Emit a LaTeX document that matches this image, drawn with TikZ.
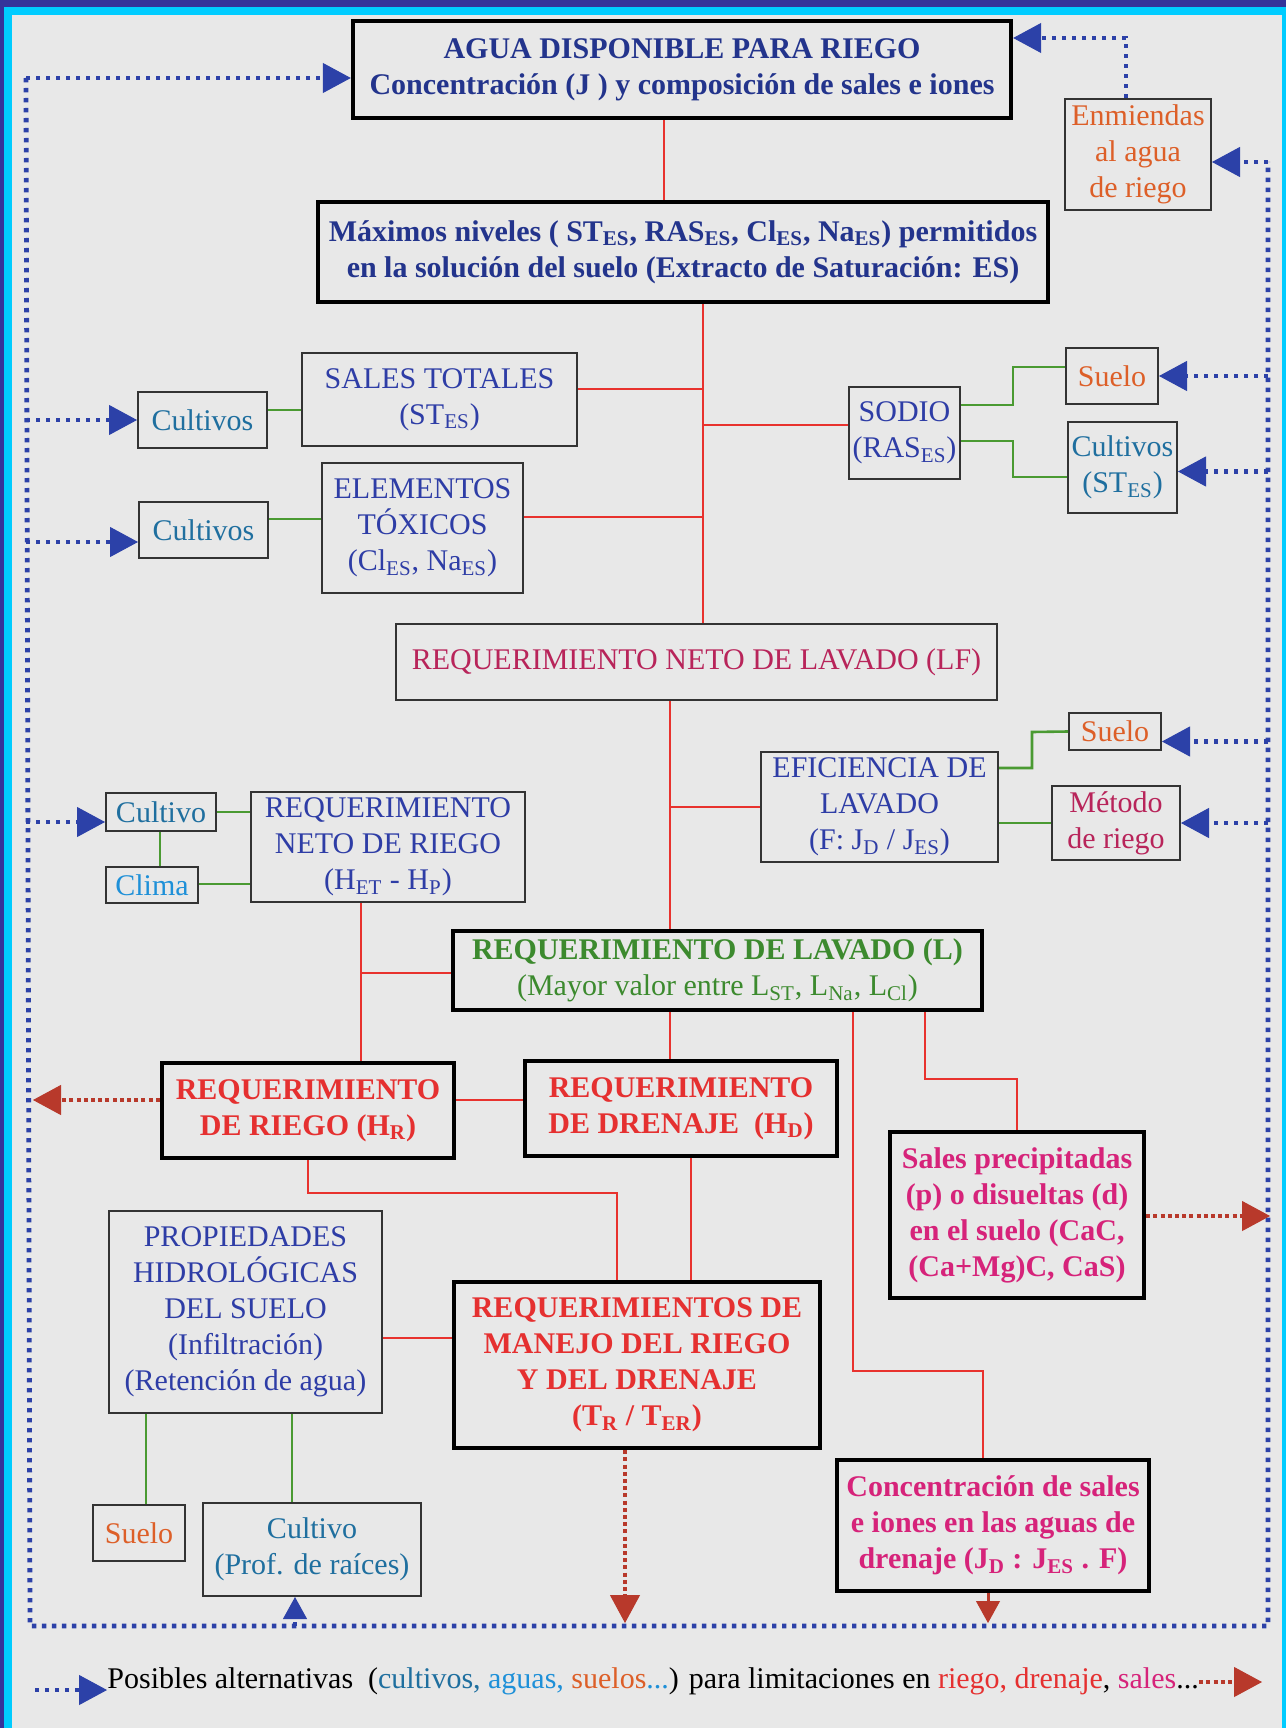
\documentclass[tikz,border=0pt]{standalone}
\usepackage{fontspec}
\setmainfont{Liberation Serif}
\usetikzlibrary{positioning,arrows.meta,calc}

\definecolor{bgc}{HTML}{E8E8E8}
\definecolor{navyframe}{HTML}{35339A}
\definecolor{cyanframe}{HTML}{00CCFF}
\definecolor{tnavy}{HTML}{23348C}
\definecolor{tblue}{HTML}{2E3DA6}
\definecolor{tteal}{HTML}{1F6F9F}
\definecolor{tlblue}{HTML}{1E90D8}
\definecolor{torange}{HTML}{DD5F28}
\definecolor{tcrimson}{HTML}{B8245A}
\definecolor{tgreen}{HTML}{3C8A2E}
\definecolor{tred}{HTML}{E53030}
\definecolor{tmag}{HTML}{D6237A}
\definecolor{lred}{HTML}{E8322E}
\definecolor{lgreen}{HTML}{4A9A32}
\definecolor{dblue}{HTML}{2C41A8}
\definecolor{dred}{HTML}{B8392B}

\newcommand{\lo}[1]{\textsubscript{#1}}

\begin{document}
\begin{tikzpicture}[
    x=0.5pt, y=-0.5pt,
    font=\fontsize{15}{18}\selectfont,
    thickbox/.style={rectangle, draw=black, line width=2.2pt, align=center, inner sep=0pt},
    thinbox/.style={rectangle, draw=black!80, line width=1pt, align=center, inner sep=0pt},
    boldtxt/.style={font=\fontsize{15}{18}\selectfont\bfseries},
    redline/.style={draw=lred, line width=1pt},
    greenline/.style={draw=lgreen, line width=1.3pt},
    dotblue/.style={draw=dblue, line width=2.4pt, dash pattern=on 2.2pt off 2.8pt},
    dotred/.style={draw=dred, line width=2.4pt, dash pattern=on 2pt off 1.6pt},
    bigtip/.style={-{Triangle[length=14pt, width=15pt, fill=#1, line width=0.5pt]}},
    smalltip/.style={-{Triangle[length=11pt, width=12pt, fill=#1, line width=0.5pt]}},
]
    \useasboundingbox (0,0) rectangle (1286,1728);
    % Frame
    \fill[navyframe] (0,0) rectangle (1286,1728);
    \fill[cyanframe] (4,7) rectangle (1286,1728);
    \fill[bgc] (12,15) rectangle (1282,1728);

    % Main flow
    \node[thickbox, boldtxt, text=tnavy, minimum width=329pt, minimum height=48.5pt] (agua) at (682,69.5) {AGUA DISPONIBLE PARA RIEGO\\Concentración (J ) y composición de sales e iones};
    \node[thickbox, boldtxt, text=tnavy, minimum width=365pt, minimum height=50pt] (maximos) at (683,252) {Máximos niveles ( ST\lo{ES}, RAS\lo{ES}, Cl\lo{ES}, Na\lo{ES}) permitidos\\en la solución del suelo (Extracto de Saturación: ES)};
    \node[thinbox, text=torange, minimum width=73pt, minimum height=55.5pt] (enmiendas) at (1138,154.5) {Enmiendas\\al agua\\de riego};

    \node[thinbox, text=tblue, minimum width=137.5pt, minimum height=46.5pt] (sales) at (439.5,399.5) {SALES TOTALES\\(ST\lo{ES})};
    \node[thinbox, text=tteal, minimum width=64.5pt, minimum height=28pt] (cult1) at (202.5,420) {Cultivos};
    \node[thinbox, text=tblue, minimum width=100.5pt, minimum height=65pt] (toxicos) at (422.5,528) {ELEMENTOS\\TÓXICOS\\(Cl\lo{ES}, Na\lo{ES})};
    \node[thinbox, text=tteal, minimum width=64.5pt, minimum height=28pt] (cult2) at (203.5,530) {Cultivos};
    \node[thinbox, text=tblue, minimum width=55.5pt, minimum height=46pt] (sodio) at (904.5,433) {SODIO\\(RAS\lo{ES})};
    \node[thinbox, text=torange, minimum width=46pt, minimum height=28pt] (suelo1) at (1112,376) {Suelo};
    \node[thinbox, text=tteal, minimum width=54.5pt, minimum height=45.5pt] (cult3) at (1122.5,467.5) {Cultivos\\(ST\lo{ES})};

    \node[thinbox, text=tcrimson, minimum width=300.5pt, minimum height=38pt] (netolav) at (696.5,662) {REQUERIMIENTO NETO DE LAVADO (LF)};
    \node[thinbox, text=torange, minimum width=46pt, minimum height=18.5pt] (suelo2) at (1115,731.5) {Suelo};
    \node[thinbox, text=tblue, minimum width=118.5pt, minimum height=55pt] (eficiencia) at (879.5,807) {EFICIENCIA DE\\LAVADO\\(F: J\lo{D} / J\lo{ES})};
    \node[thinbox, text=tcrimson, minimum width=64pt, minimum height=37pt] (metodo) at (1116,823) {Método\\de riego};
    \node[thinbox, text=tteal, minimum width=55pt, minimum height=19pt] (cultivo) at (161,812) {Cultivo};
    \node[thinbox, text=tlblue, minimum width=46pt, minimum height=18pt] (clima) at (152,885) {Clima};
    \node[thinbox, text=tblue, minimum width=137pt, minimum height=55pt] (netoriego) at (388,847) {REQUERIMIENTO\\NETO DE RIEGO\\(H\lo{ET} - H\lo{P})};

    \node[thickbox, text=tgreen, minimum width=264.5pt, minimum height=39.5pt] (lavado) at (717.5,970.5) {\textbf{REQUERIMIENTO DE LAVADO (L)}\\(Mayor valor entre L\lo{ST}, L\lo{Na}, L\lo{Cl})};
    \node[thickbox, boldtxt, text=tred, minimum width=146pt, minimum height=47.5pt] (riego) at (308,1110.5) {REQUERIMIENTO\\DE RIEGO (H\lo{R})};
    \node[thickbox, boldtxt, text=tred, minimum width=156pt, minimum height=47.5pt] (drenaje) at (681,1108.5) {REQUERIMIENTO\\DE DRENAJE\ \ (H\lo{D})};
    \node[thickbox, boldtxt, text=tmag, minimum width=127pt, minimum height=83pt] (salesp) at (1017,1215) {Sales precipitadas\\(p) o disueltas (d)\\en el suelo (CaC,\\(Ca+Mg)C, CaS)};
    \node[thinbox, text=tblue, minimum width=136.5pt, minimum height=101pt] (propiedades) at (245.5,1312) {PROPIEDADES\\HIDROLÓGICAS\\DEL SUELO\\(Infiltración)\\(Retención de agua)};
    \node[thickbox, boldtxt, text=tred, minimum width=183pt, minimum height=83pt] (manejo) at (637,1365) {REQUERIMIENTOS DE\\MANEJO DEL RIEGO\\Y DEL DRENAJE\\(T\lo{R} / T\lo{ER})};
    \node[thinbox, text=torange, minimum width=46pt, minimum height=28pt] (suelo3) at (139,1533) {Suelo};
    \node[thinbox, text=tteal, minimum width=109pt, minimum height=46.5pt] (cultivo4) at (312,1549.5) {Cultivo\\(Prof. de raíces)};
    \node[thickbox, boldtxt, text=tmag, minimum width=156pt, minimum height=65.5pt] (concentracion) at (993,1525.5) {Concentración de sales\\e iones en las aguas de\\drenaje (J\lo{D} : J\lo{ES} . F)};

    % Red connectors
    \coordinate (ta) at (664,0);
    \coordinate (tb) at (703,0);
    \coordinate (tc) at (670,0);
    \coordinate (td) at (361,0);
    \draw[redline] (agua.south -| ta) -- (maximos.north -| ta);
    \draw[redline] (maximos.south -| tb) -- (netolav.north -| tb);
    \draw[redline] (sales.east |- 0,389) -- (tb |- 0,389);
    \draw[redline] (sodio.west |- 0,425) -- (tb |- 0,425);
    \draw[redline] (toxicos.east |- 0,517) -- (tb |- 0,517);
    \draw[redline] (netolav.south -| tc) -- (lavado.north -| tc);
    \draw[redline] (eficiencia.west) -- (eficiencia.west -| tc);
    \draw[redline] (netoriego.south -| td) -- (riego.north -| td);
    \draw[redline] (lavado.west |- 0,973) -- (td |- 0,973);
    \draw[redline] (lavado.south -| tc) -- (drenaje.north -| tc);
    \draw[redline] (lavado.south -| 853,0) |- (983,1371) -- (concentracion.north -| 983,0);
    \draw[redline] (lavado.south -| 925,0) |- (1017,1079) -- (salesp.north);
    \draw[redline] (riego.east |- 0,1100) -- (drenaje.west |- 0,1100);
    \draw[redline] (riego.south) |- (617,1193) -- (manejo.north -| 617,0);
    \draw[redline] (drenaje.south -| 691,0) -- (manejo.north -| 691,0);
    \draw[redline] (propiedades.east |- 0,1338) -- (manejo.west |- 0,1338);

    % Green connectors
    \draw[greenline] (cult1.east |- 0,410) -- (sales.west |- 0,410);
    \draw[greenline] (cult2.east |- 0,519) -- (toxicos.west |- 0,519);
    \draw[greenline] (sodio.east |- 0,405) -| (1013,367) -- (suelo1.west |- 0,367);
    \draw[greenline] (sodio.east |- 0,441) -| (1013,477) -- (cult3.west |- 0,477);
    \draw[greenline] (eficiencia.east |- 0,768) -| (1032,732) -- (suelo2.west);
    \draw[greenline] (eficiencia.east |- metodo.west) -- (metodo.west);
    \draw[greenline] (cultivo.east) -- (netoriego.west |- cultivo.east);
    \draw[greenline] (cultivo.south -| 160,0) -- (clima.north -| 160,0);
    \draw[greenline] (clima.east |- 0,884) -- (netoriego.west |- 0,884);
    \draw[greenline] (propiedades.south -| 146,0) -- (suelo3.north -| 146,0);
    \draw[greenline] (propiedades.south -| 292,0) -- (cultivo4.north -| 292,0);

    % Alternatives loop (blue)
    \coordinate (lt) at (26,78);
    \coordinate (lb) at (30,1626);
    \coordinate (rb) at (1268,1626);
    \coordinate (rt) at (1268,162);
    \draw[dotblue] (lt) -- (lb) -- (rb) -- (rt);
    \draw[dotblue, bigtip=dblue] (lt) -- (agua.west |- lt);
    \draw[dotblue, bigtip=dblue] (cult1.west -| lt) -- (cult1.west);
    \draw[dotblue, bigtip=dblue] ([yshift=-6pt]cult2.west -| lt) -- ([yshift=-6pt]cult2.west);
    \draw[dotblue, bigtip=dblue] ([yshift=-5pt]cultivo.west -| lt) -- ([yshift=-5pt]cultivo.west);
    \draw[dotblue, bigtip=dblue] (rt) -- (enmiendas.east |- rt);
    \draw[dotblue, bigtip=dblue] (suelo1.east -| rt) -- (suelo1.east);
    \draw[dotblue, bigtip=dblue] ([yshift=-2pt]cult3.east -| rt) -- ([yshift=-2pt]cult3.east);
    \draw[dotblue, bigtip=dblue] ([yshift=-5pt]suelo2.east -| rt) -- ([yshift=-5pt]suelo2.east);
    \draw[dotblue, bigtip=dblue] (metodo.east -| rt) -- (metodo.east);
    \draw[dotblue, bigtip=dblue] (enmiendas.north -| 1126,0) |- (agua.east |- 0,38);
    \draw[dotblue, smalltip=dblue] (lb -| 295,0) -- (cultivo4.south -| 295,0);

    % Limitation arrows (red)
    \draw[dotred, bigtip=dred] (riego.west |- 0,1100) -- (33,1100);
    \draw[dotred, bigtip=dred] (salesp.east |- 0,1216) -- (1270,1216);
    \draw[dotred, bigtip=dred] (manejo.south -| 625,0) -- (625,1623);
    \draw[draw=dred, line width=1.5pt, smalltip=dred] (concentracion.south -| 988,0) -- (988,1623);

    % Legend
    \node[anchor=base west, inner sep=0pt] (legend) at (107,1688) {Posibles alternativas\ \ (\textcolor{tteal}{cultivos,} \textcolor{tlblue}{aguas,} \textcolor{torange}{suelos}\textcolor{tlblue}{...}) para limitaciones en \textcolor{tred}{riego, drenaje}, \textcolor{tmag}{sales}...};
    \coordinate (lga) at (35,1690);
    \draw[dotblue, bigtip=dblue] (lga) -- (lga -| legend.west);
    \draw[dotred, bigtip=dred] (legend.east |- 0,1682) -- (1262,1682);
\end{tikzpicture}
\end{document}
